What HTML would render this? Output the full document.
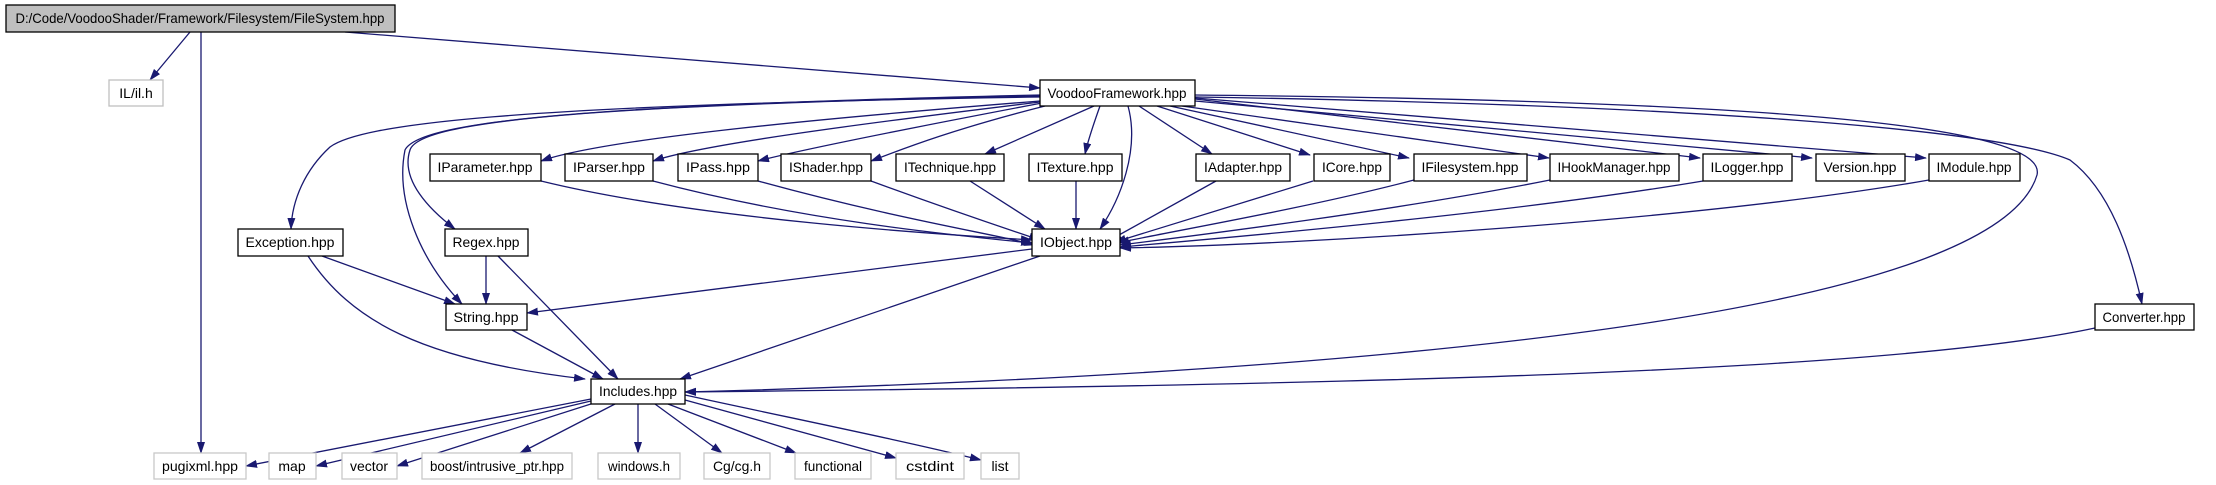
<!DOCTYPE html>
<html><head><meta charset="utf-8"><style>
html,body{margin:0;padding:0;background:#fff;width:2216px;height:485px;overflow:hidden}
svg text{font-family:"Liberation Sans",sans-serif;font-size:14px;fill:#000}
</style></head><body>
<svg width="2216" height="485" viewBox="0 0 2216 485" xmlns="http://www.w3.org/2000/svg">
<defs><marker id="a" markerWidth="12" markerHeight="8" refX="11" refY="4" orient="auto" markerUnits="userSpaceOnUse"><path d="M0,0 L12,4 L0,8 z" fill="#191970"/></marker></defs>
<g fill="none" stroke="#191970" stroke-width="1.3" marker-end="url(#a)">
<path d="M190,32 L150,80"/>
<path d="M201,32 L201,453"/>
<path d="M345,32 L1040,88"/>
<path d="M1040,101 C800,120 600,140 541,161"/>
<path d="M1040,102 C850,125 700,145 653,161"/>
<path d="M1042,103 C900,130 800,150 758,161"/>
<path d="M1045,106 C950,130 900,150 871,161"/>
<path d="M1094,106 L985,154"/>
<path d="M1100,106 C1095,120 1088,140 1085,154"/>
<path d="M1139,106 L1212,154"/>
<path d="M1157,106 L1310,155"/>
<path d="M1170,106 L1409,158"/>
<path d="M1182,106 L1549,158"/>
<path d="M1195,99 L1700,158"/>
<path d="M1195,101 L1812,158"/>
<path d="M1195,98 L1926,158"/>
<path d="M1040,97 C500,105 360,125 330,147 C305,170 292,200 291,229"/>
<path d="M1040,96 C600,105 420,120 410,150 C400,180 430,210 455,229"/>
<path d="M1040,95 C600,105 420,120 405,150 C395,200 420,260 462,304"/>
<path d="M1128,106 C1140,150 1120,200 1100,229"/>
<path d="M1195,95 C1700,100 2050,120 2037,175 C2000,300 1500,370 685,392"/>
<path d="M1195,97 C1700,105 2000,130 2070,160 C2110,190 2130,250 2142,304"/>
<path d="M2095,328 C1900,370 1400,385 685,392"/>
<path d="M541,181 C700,220 950,235 1032,240"/>
<path d="M653,181 C800,220 950,235 1032,243"/>
<path d="M758,181 C900,220 1000,235 1035,245"/>
<path d="M871,181 C950,210 1010,230 1040,240"/>
<path d="M970,181 L1045,229"/>
<path d="M1076,181 L1076,229"/>
<path d="M1216,181 L1110,240"/>
<path d="M1313,181 L1115,242"/>
<path d="M1414,180 C1300,210 1150,235 1118,243"/>
<path d="M1550,180 C1400,210 1200,235 1120,245"/>
<path d="M1703,181 C1500,215 1200,240 1120,247"/>
<path d="M1929,180 C1700,220 1300,245 1120,248"/>
<path d="M1032,249 L527,313"/>
<path d="M1040,256 L680,379"/>
<path d="M322,256 L455,304"/>
<path d="M308,256 C350,320 420,360 585,379"/>
<path d="M486,256 L486,304"/>
<path d="M498,256 L618,379"/>
<path d="M512,330 L603,379"/>
<path d="M591,399 L246,466"/>
<path d="M591,401 L316,466"/>
<path d="M594,403 L397,466"/>
<path d="M615,404 L520,453"/>
<path d="M638,404 L638,453"/>
<path d="M655,404 L722,453"/>
<path d="M668,404 L796,453"/>
<path d="M685,400 L896,458"/>
<path d="M685,395 C800,420 900,440 981,460"/>
</g>
<g stroke-width="1.3">
<rect x="6" y="5" width="389" height="27" fill="#bfbfbf" stroke="#000"/>
<rect x="109" y="80" width="54" height="26" fill="#fff" stroke="#bfbfbf"/>
<rect x="1040" y="80" width="155" height="26" fill="#fff" stroke="#000"/>
<rect x="430" y="154" width="111" height="27" fill="#fff" stroke="#000"/>
<rect x="565" y="154" width="88" height="27" fill="#fff" stroke="#000"/>
<rect x="678" y="154" width="80" height="27" fill="#fff" stroke="#000"/>
<rect x="781" y="154" width="90" height="27" fill="#fff" stroke="#000"/>
<rect x="896" y="154" width="108" height="27" fill="#fff" stroke="#000"/>
<rect x="1029" y="154" width="93" height="27" fill="#fff" stroke="#000"/>
<rect x="1196" y="154" width="94" height="27" fill="#fff" stroke="#000"/>
<rect x="1314" y="154" width="76" height="27" fill="#fff" stroke="#000"/>
<rect x="1414" y="154" width="113" height="27" fill="#fff" stroke="#000"/>
<rect x="1550" y="154" width="129" height="27" fill="#fff" stroke="#000"/>
<rect x="1703" y="154" width="89" height="27" fill="#fff" stroke="#000"/>
<rect x="1816" y="154" width="89" height="27" fill="#fff" stroke="#000"/>
<rect x="1929" y="154" width="91" height="27" fill="#fff" stroke="#000"/>
<rect x="238" y="229" width="105" height="27" fill="#fff" stroke="#000"/>
<rect x="445" y="229" width="83" height="27" fill="#fff" stroke="#000"/>
<rect x="1032" y="229" width="88" height="27" fill="#fff" stroke="#000"/>
<rect x="446" y="304" width="81" height="26" fill="#fff" stroke="#000"/>
<rect x="2095" y="304" width="99" height="26" fill="#fff" stroke="#000"/>
<rect x="591" y="379" width="94" height="25" fill="#fff" stroke="#000"/>
<g fill="#fff" stroke="#c8c8c8">
<rect x="154" y="453" width="92" height="26"/>
<rect x="269" y="453" width="47" height="26"/>
<rect x="342" y="453" width="55" height="26"/>
<rect x="422" y="453" width="150" height="26"/>
<rect x="598" y="453" width="82" height="26"/>
<rect x="704" y="453" width="66" height="26"/>
<rect x="795" y="453" width="76" height="26"/>
<rect x="896" y="453" width="68" height="26"/>
<rect x="981" y="453" width="38" height="26"/>
</g>
</g>
<g text-anchor="middle">
<text x="200" y="23" textLength="369" lengthAdjust="spacingAndGlyphs">D:/Code/VoodooShader/Framework/Filesystem/FileSystem.hpp</text>
<text x="136" y="98">IL/il.h</text>
<text x="1117" y="98" textLength="139" lengthAdjust="spacingAndGlyphs">VoodooFramework.hpp</text>
<text x="485" y="172" textLength="95" lengthAdjust="spacingAndGlyphs">IParameter.hpp</text>
<text x="609" y="172" textLength="72" lengthAdjust="spacingAndGlyphs">IParser.hpp</text>
<text x="718" y="172" textLength="64" lengthAdjust="spacingAndGlyphs">IPass.hpp</text>
<text x="826" y="172" textLength="74" lengthAdjust="spacingAndGlyphs">IShader.hpp</text>
<text x="950" y="172" textLength="92" lengthAdjust="spacingAndGlyphs">ITechnique.hpp</text>
<text x="1075" y="172" textLength="77" lengthAdjust="spacingAndGlyphs">ITexture.hpp</text>
<text x="1243" y="172" textLength="78" lengthAdjust="spacingAndGlyphs">IAdapter.hpp</text>
<text x="1352" y="172" textLength="60" lengthAdjust="spacingAndGlyphs">ICore.hpp</text>
<text x="1470" y="172" textLength="97" lengthAdjust="spacingAndGlyphs">IFilesystem.hpp</text>
<text x="1614" y="172" textLength="113" lengthAdjust="spacingAndGlyphs">IHookManager.hpp</text>
<text x="1747" y="172" textLength="73" lengthAdjust="spacingAndGlyphs">ILogger.hpp</text>
<text x="1860" y="172" textLength="73" lengthAdjust="spacingAndGlyphs">Version.hpp</text>
<text x="1974" y="172" textLength="75" lengthAdjust="spacingAndGlyphs">IModule.hpp</text>
<text x="290" y="247" textLength="89" lengthAdjust="spacingAndGlyphs">Exception.hpp</text>
<text x="486" y="247" textLength="67" lengthAdjust="spacingAndGlyphs">Regex.hpp</text>
<text x="1076" y="247" textLength="72" lengthAdjust="spacingAndGlyphs">IObject.hpp</text>
<text x="486" y="322" textLength="65" lengthAdjust="spacingAndGlyphs">String.hpp</text>
<text x="2144" y="322" textLength="83" lengthAdjust="spacingAndGlyphs">Converter.hpp</text>
<text x="638" y="396" textLength="78" lengthAdjust="spacingAndGlyphs">Includes.hpp</text>
<text x="200" y="471" textLength="76" lengthAdjust="spacingAndGlyphs">pugixml.hpp</text>
<text x="292" y="471">map</text>
<text x="369" y="471">vector</text>
<text x="497" y="471" textLength="134" lengthAdjust="spacingAndGlyphs">boost/intrusive_ptr.hpp</text>
<text x="639" y="471" textLength="62" lengthAdjust="spacingAndGlyphs">windows.h</text>
<text x="737" y="471" textLength="48" lengthAdjust="spacingAndGlyphs">Cg/cg.h</text>
<text x="833" y="471" textLength="58" lengthAdjust="spacingAndGlyphs">functional</text>
<text x="930" y="471" textLength="48" lengthAdjust="spacingAndGlyphs">cstdint</text>
<text x="1000" y="471">list</text>
</g>
</svg>
</body></html>
